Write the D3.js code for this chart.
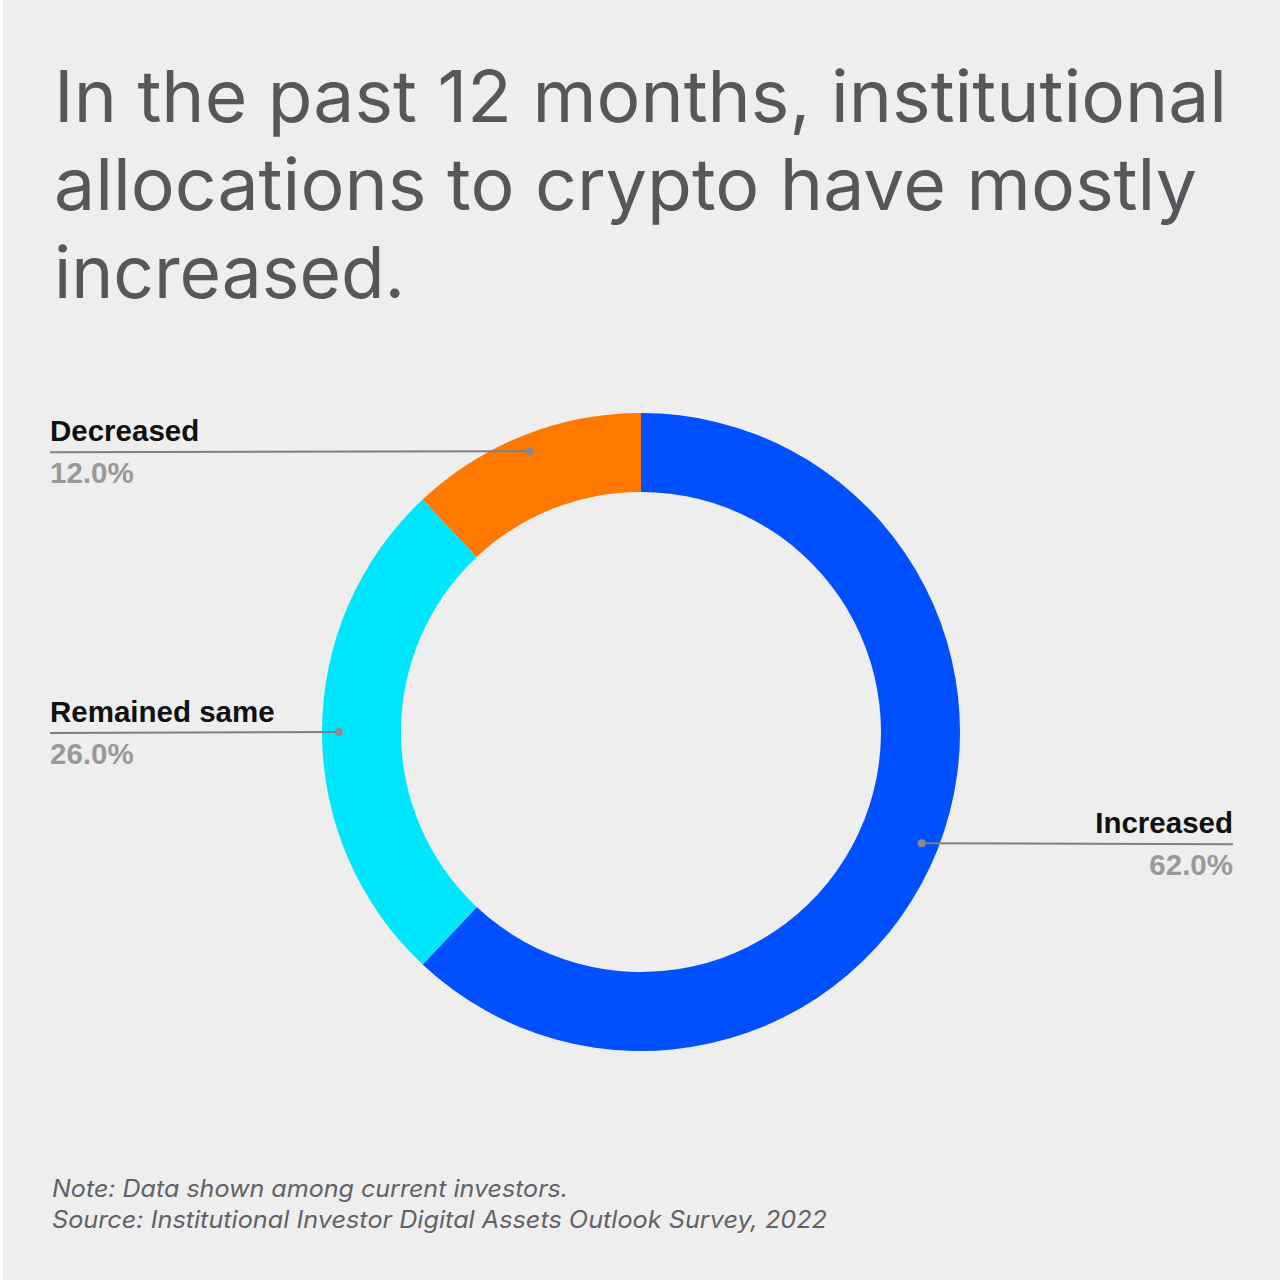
<!DOCTYPE html>
<html><head><meta charset="utf-8">
<script src="https://cdn.jsdelivr.net/npm/d3@7"></script>
<style>html,body{margin:0;padding:0;background:#eeeeee;}</style>
</head><body>
<svg id="c" width="1280" height="1280"></svg>
<script>
const categories = ["Increased", "Remained same", "Decreased"];
const values = [62.0, 26.0, 12.0];
const colors = ["#0050ff", "#00e6fd", "#ff7900"];
const titleLines = ["In the past 12 months, institutional", "allocations to crypto have mostly", "increased."];
const footerLines = ["Note: Data shown among current investors.", "Source: Institutional Investor Digital Assets Outlook Survey, 2022"];

const svg = d3.select("#c");
svg.append("rect").attr("width",1280).attr("height",1280).attr("fill","#eeeeee");
svg.append("rect").attr("width",3).attr("height",1280).attr("fill","#ffffff");

// Title
const titleW = [1173, 1143, 351];
svg.selectAll("text.title").data(titleLines).join("text")
  .attr("class","title")
  .attr("x",54).attr("y",(d,i)=>122+i*88)
  .attr("font-family","Inter, 'Noto Sans', sans-serif")
  .attr("font-size",72).attr("fill","#56565b")
  .attr("textLength",(d,i)=>titleW[i]).attr("lengthAdjust","spacingAndGlyphs")
  .text(d=>d);

// Donut
const cx = 641, cy = 732, rOuter = 319, rInner = 240, rDot = 302;
const data = categories.map((c,i)=>({cat:c, value:values[i], color:colors[i]}));
const pie = d3.pie().value(d=>d.value).sort(null);
const arcs = pie(data);
const arc = d3.arc().innerRadius(rInner).outerRadius(rOuter);
const g = svg.append("g").attr("transform",`translate(${cx},${cy})`);
g.selectAll("path").data(arcs).join("path")
  .attr("d",arc).attr("fill",d=>d.data.color);

// Labels
const labelSpec = {
  "Increased": {side:"right", edge:1233},
  "Remained same": {side:"left", edge:50},
  "Decreased": {side:"left", edge:50}
};
arcs.forEach(a=>{
  const mid = (a.startAngle+a.endAngle)/2;
  const px = cx + rDot*Math.sin(mid), py = cy - rDot*Math.cos(mid);
  const spec = labelSpec[a.data.cat];
  const ly = py + 1;
  svg.append("line").attr("x1",px).attr("y1",py).attr("x2",spec.edge).attr("y2",ly)
    .attr("stroke","#7f7f7f").attr("stroke-width",2);
  svg.append("circle").attr("cx",px).attr("cy",py).attr("r",4).attr("fill","#8a8a8a");
  const anchor = spec.side==="left" ? "start" : "end";
  svg.append("text").attr("x",spec.edge).attr("y",ly-11)
    .attr("text-anchor",anchor)
    .attr("font-family","'Liberation Sans', Arial, sans-serif").attr("font-weight","bold")
    .attr("font-size",29.5).attr("fill","#111111").text(a.data.cat);
  svg.append("text").attr("x",spec.edge).attr("y",ly+31)
    .attr("text-anchor",anchor)
    .attr("font-family","'Liberation Sans', Arial, sans-serif").attr("font-weight","bold")
    .attr("font-size",29.5).attr("fill","#999999").text(a.data.value.toFixed(1)+"%");
});

// Footer
const footW = [516, 775];
svg.selectAll("text.foot").data(footerLines).join("text")
  .attr("class","foot")
  .attr("x",52).attr("y",(d,i)=>1197+i*31)
  .attr("font-family","Inter, 'Noto Sans', sans-serif").attr("font-style","italic")
  .attr("font-size",24).attr("fill","#626266")
  .attr("textLength",(d,i)=>footW[i]).attr("lengthAdjust","spacingAndGlyphs")
  .text(d=>d);
</script>
</body></html>
